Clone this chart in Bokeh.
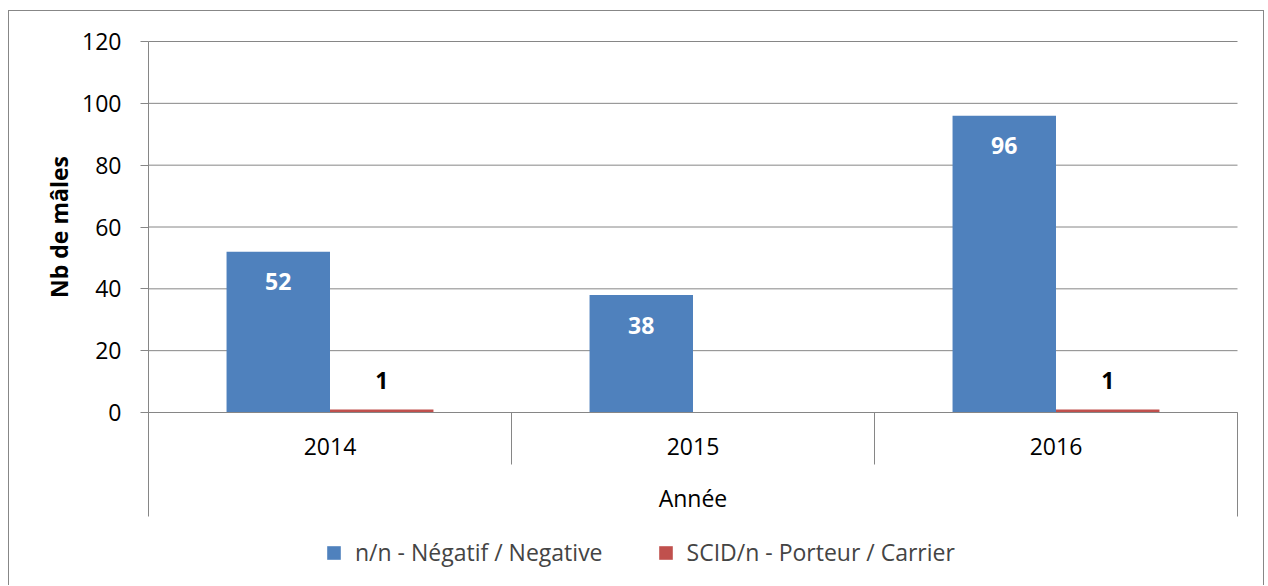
import math
from bokeh.plotting import figure
from bokeh.models import (Range1d, FixedTicker, LinearAxis, ColumnDataSource,
                          Legend, LegendItem)
from bokeh.core.properties import value
from bokeh.embed import file_html
from bokeh.resources import INLINE

# ---- data ----
years = ["2014", "2015", "2016"]
negative = [52, 38, 96]
carrier = [1, 0, 1]
series_names = ["n/n - Négatif / Negative", "SCID/n - Porteur / Carrier"]
y_ticks = [0, 20, 40, 60, 80, 100, 120]
y_title = "Nb de mâles"
x_title = "Année"

BLUE = "#4F81BD"
RED = "#C0504D"
GRID = "#868686"
FONT = "Open Sans"
FS = "23px"

n = len(years)
BAR_W = 0.285
centers = [i + 0.5 for i in range(n)]
x_neg = [c - BAR_W / 2 for c in centers]
x_car = [c + BAR_W / 2 for c in centers]

src_neg = ColumnDataSource(dict(x=x_neg, top=negative, lbl=[str(v) for v in negative]))
src_car = ColumnDataSource(dict(x=x_car, top=carrier))
lab_car = ColumnDataSource(dict(
    x=[x for x, v in zip(x_car, carrier) if v > 0],
    y=[v for v in carrier if v > 0],
    lbl=[str(v) for v in carrier if v > 0]))

# geometry (pixels): plot area 1089 px wide, value axis 371 px tall,
# 30 px above it and 174 px below it inside the drawing frame
CAT_PX = 363
px_per_unit = 371 / (y_ticks[-1] - y_ticks[0])
x_min = -139 / CAT_PX
x_max = n + 1 / CAT_PX
y_min = -174 / px_per_unit
y_max = y_ticks[-1] + 30 / px_per_unit

p = figure(width=1256, height=575, output_backend="svg", toolbar_location=None,
           x_range=Range1d(x_min, x_max), y_range=Range1d(y_min, y_max),
           min_border_left=0, min_border_right=27, min_border_top=0,
           min_border_bottom=0, x_axis_type=None, y_axis_type=None,
           background_fill_color="white", border_fill_color="white",
           outline_line_color=None)
p.styles = {"border-left": "1px solid #878787", "border-top": "1px solid #878787",
            "border-right": "1px solid #878787", "margin-left": "8px",
            "margin-top": "10px"}

# horizontal grid lines over the plot area
p.segment(x0=[0] * len(y_ticks), x1=[n] * len(y_ticks), y0=y_ticks, y1=y_ticks,
          line_color=GRID, line_width=1)

# value axis at the left edge of the plot area
yax = LinearAxis(ticker=FixedTicker(ticks=y_ticks, minor_ticks=[]),
                 bounds=(y_ticks[0], y_ticks[-1]), fixed_location=0)
yax.major_tick_out = 8
yax.major_tick_in = 0
yax.axis_line_color = GRID
yax.major_tick_line_color = GRID
yax.major_label_text_font = FONT
yax.major_label_text_font_size = FS
yax.major_label_text_color = "black"
yax.major_label_standoff = 19
p.add_layout(yax, "left")

# value-axis title
p.text(x=[0], y=[(y_ticks[0] + y_ticks[-1]) / 2], text=[y_title], x_offset=-90,
       angle=math.pi / 2, text_align="center", text_baseline="middle",
       text_color="black", text_font=value(FONT), text_font_size=FS,
       text_font_style="bold")

# category axis at value 0 (labels + title)
xax = LinearAxis(ticker=FixedTicker(ticks=centers, minor_ticks=[]),
                 fixed_location=0, bounds=(0, n))
xax.major_label_overrides = {c: y for c, y in zip(centers, years)}
xax.major_tick_out = 0
xax.major_tick_in = 0
xax.axis_line_color = GRID
xax.major_label_text_font = FONT
xax.major_label_text_font_size = FS
xax.major_label_text_color = "black"
xax.major_label_standoff = 25
xax.axis_label = x_title
xax.axis_label_text_font = FONT
xax.axis_label_text_font_size = FS
xax.axis_label_text_font_style = "normal"
xax.axis_label_text_color = "black"
xax.axis_label_standoff = 24
p.add_layout(xax, "below")

# inner category separators
xsep = LinearAxis(ticker=FixedTicker(ticks=list(range(1, n)), minor_ticks=[]),
                  fixed_location=0)
xsep.major_label_overrides = {i: "" for i in range(1, n)}
xsep.major_label_text_font_size = "0px"
xsep.major_tick_out = 52
xsep.major_tick_in = 0
xsep.major_tick_line_color = GRID
xsep.axis_line_color = None
p.add_layout(xsep, "below")

# outer category boundaries (longer lines)
xend = LinearAxis(ticker=FixedTicker(ticks=[0, n], minor_ticks=[]), fixed_location=0)
xend.major_label_overrides = {0: "", n: ""}
xend.major_label_text_font_size = "0px"
xend.major_tick_out = 104
xend.major_tick_in = 0
xend.major_tick_line_color = GRID
xend.axis_line_color = None
p.add_layout(xend, "below")

r_neg = p.vbar(x="x", top="top", width=BAR_W, bottom=0, source=src_neg,
               fill_color=BLUE, line_color=None)
r_car = p.vbar(x="x", top="top", width=BAR_W, bottom=0, source=src_car,
               fill_color=RED, line_color=None)

p.text(x="x", y="top", text="lbl", source=src_neg, y_offset=30,
       text_align="center", text_baseline="middle", text_color="white",
       text_font=value(FONT), text_font_size=FS, text_font_style="bold")
p.text(x="x", y="y", text="lbl", source=lab_car, y_offset=-29,
       text_align="center", text_baseline="middle", text_color="black",
       text_font=value(FONT), text_font_size=FS, text_font_style="bold")

legend = Legend(items=[LegendItem(label=series_names[0], renderers=[r_neg]),
                       LegendItem(label=series_names[1], renderers=[r_car])],
                orientation="horizontal", location=(316, 18),
                padding=0, margin=0, spacing=54, label_standoff=13,
                glyph_width=17, glyph_height=17,
                label_text_font=FONT, label_text_font_size=FS,
                background_fill_alpha=0, border_line_color=None)
p.add_layout(legend, "center")

open("out.html", "w").write(file_html(p, INLINE))
